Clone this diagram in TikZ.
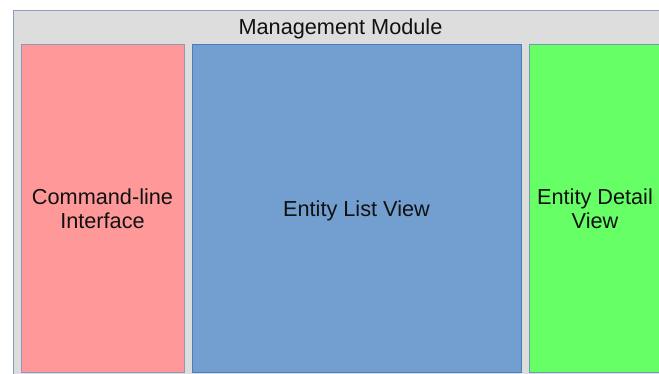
\documentclass[tikz,border=0pt]{standalone}
\usepackage{fontspec}
\setmainfont{Liberation Sans}
\definecolor{outerfill}{HTML}{DDDDDD}
\definecolor{outerline}{HTML}{8A9DBA}
\definecolor{pinkfill}{HTML}{FF9999}
\definecolor{pinkline}{HTML}{8E97BE}
\definecolor{bluefill}{HTML}{729FCF}
\definecolor{blueline}{HTML}{4A7DBB}
\definecolor{greenfill}{HTML}{66FF66}
\definecolor{greenline}{HTML}{6E9CB0}
\definecolor{txt}{HTML}{111111}
\tikzset{
  box/.style={draw, line width=1pt, inner sep=0pt, text depth=0pt, align=center,
    text=txt, font=\fontsize{21.7}{24}\selectfont},
  title/.style={inner sep=0pt, text depth=0pt, text=txt, font=\fontsize{21.7}{24}\selectfont}
}
\begin{document}
\begin{tikzpicture}[x=1pt,y=-1pt]
\useasboundingbox (0,0) rectangle (659,374);
\node[box, fill=outerfill, draw=outerline, minimum width=656pt, minimum height=372pt] (module) at (341,197) {};
\node[title] (moduletitle) at (340.5,27) {Management Module};
\node[box, fill=pinkfill, draw=pinkline, minimum width=163pt, minimum height=327pt] (cli) at (102.5,208.5) {Command-line\\Interface};
\node[box, fill=bluefill, draw=blueline, minimum width=329pt, minimum height=327pt] (list) at (356.5,208.5) {Entity List View};
\node[box, fill=greenfill, draw=greenline, minimum width=132pt, minimum height=327pt] (detail) at (595,208.5) {Entity Detail\\View};
\end{tikzpicture}
\end{document}
